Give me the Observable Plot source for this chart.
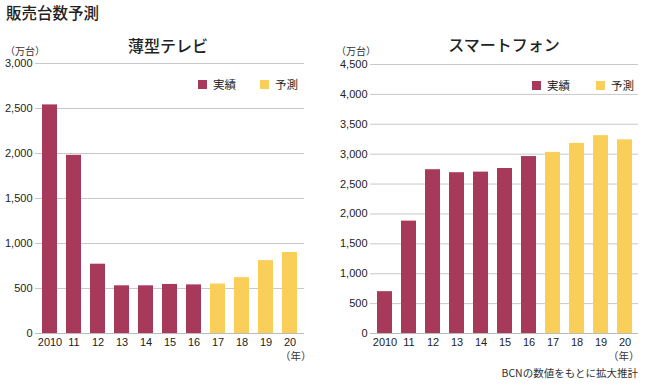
<!DOCTYPE html>
<html>
<head>
<meta charset="utf-8">
<script src="https://cdn.jsdelivr.net/npm/d3@7"></script>
<script src="https://cdn.jsdelivr.net/npm/@observablehq/plot@0.6"></script>
<style>
  html, body { margin: 0; padding: 0; background: #fff; }
  #wrap { position: relative; width: 650px; height: 386px; overflow: hidden;
    font-family: "Liberation Sans", "Noto Sans CJK JP", sans-serif; color: #222; }
  .abs { position: absolute; white-space: nowrap; line-height: 1; }
  .title { font-family: "Noto Sans CJK JP", sans-serif; font-size: 15.5px; font-weight: 500; }
  .sub { font-family: "Noto Sans CJK JP", sans-serif; font-size: 16px; font-weight: 500; transform: translateX(-50%); }
  .unit { font-family: "Noto Sans CJK JP", sans-serif; font-size: 10px; color: #333; }
  .leg { font-family: "Noto Sans CJK JP", sans-serif; font-size: 11.5px; color: #222; display: flex; align-items: center; }
  .sw { display: inline-block; width: 9px; height: 9px; margin-right: 6px; }
  .foot { font-family: "Noto Sans CJK JP", sans-serif; font-size: 10.5px; color: #333; }
  svg { position: absolute; top: 0; }
</style>
</head>
<body>
<div id="wrap">
  <div class="abs title" style="left:6px; top:5px;">販売台数予測</div>
  <div class="abs sub" style="left:168px; top:37px;">薄型テレビ</div>
  <div class="abs sub" style="left:504px; top:36px;">スマートフォン</div>
  <div class="abs unit" style="left:5px; top:46px;">（万台）</div>
  <div class="abs unit" style="left:336px; top:46px;">（万台）</div>
  <div class="abs leg" style="left:198px; top:79px;"><span class="sw" style="background:#a73a5a"></span>実績</div>
  <div class="abs leg" style="left:260px; top:79px;"><span class="sw" style="background:#f9cf5a"></span>予測</div>
  <div class="abs leg" style="left:532px; top:80px;"><span class="sw" style="background:#a73a5a"></span>実績</div>
  <div class="abs leg" style="left:596px; top:80px;"><span class="sw" style="background:#f9cf5a"></span>予測</div>
  <div class="abs unit" style="left:280px; top:351px; font-size:10.5px;">（年）</div>
  <div class="abs unit" style="left:608px; top:351px; font-size:10.5px;">（年）</div>
  <div class="abs foot" style="right:12px; top:368px;">BCNの数値をもとに拡大推計</div>
</div>
<script>
const years = ["2010","11","12","13","14","15","16","17","18","19","20"];
const kinds = ["実績","実績","実績","実績","実績","実績","実績","予測","予測","予測","予測"];
const tvValues = [2540, 1980, 770, 530, 530, 545, 540, 550, 620, 810, 900];
const phoneValues = [700, 1880, 2740, 2690, 2700, 2760, 2960, 3030, 3180, 3310, 3240];
const tvTicks = [0, 500, 1000, 1500, 2000, 2500, 3000];
const phoneTicks = [0, 500, 1000, 1500, 2000, 2500, 3000, 3500, 4000, 4500];
const kindColors = {"実績": "#a73a5a", "予測": "#f9cf5a"};

function makeChart(values, ticks, yMax, margins) {
  const data = years.map((y, i) => ({year: y, kind: kinds[i], value: values[i]}));
  return Plot.plot({
    width: 325,
    height: 386,
    marginLeft: margins.left,
    marginRight: margins.right,
    marginTop: margins.top,
    marginBottom: margins.bottom,
    style: {fontFamily: '"Liberation Sans", "Noto Sans CJK JP", sans-serif', fontSize: "11px", color: "#222", background: "transparent"},
    x: {domain: years, paddingInner: 0.38, paddingOuter: 0.23, label: null, tickSize: 0, tickPadding: 5},
    y: {domain: [0, yMax], label: null, ticks: ticks, tickSize: 0, tickPadding: 3, tickFormat: d3.format(",")},
    color: {domain: ["実績", "予測"], range: [kindColors["実績"], kindColors["予測"]]},
    marks: [
      Plot.gridY(ticks, {stroke: "#c8c8c8", strokeOpacity: 1, strokeWidth: 1}),
      Plot.barY(data, {x: "year", y: "value", fill: "kind"}),
      Plot.ruleY([0], {stroke: "#bbbbbb"})
    ]
  });
}

const wrap = document.getElementById("wrap");
const left = makeChart(tvValues, tvTicks, 3000, {left: 35, right: 21, top: 63, bottom: 53});
left.style.left = "0px";
const right = makeChart(phoneValues, phoneTicks, 4500, {left: 45, right: 12, top: 64, bottom: 53});
right.style.left = "325px";
wrap.insertBefore(left, wrap.firstChild);
wrap.insertBefore(right, wrap.firstChild);
</script>
</body>
</html>
